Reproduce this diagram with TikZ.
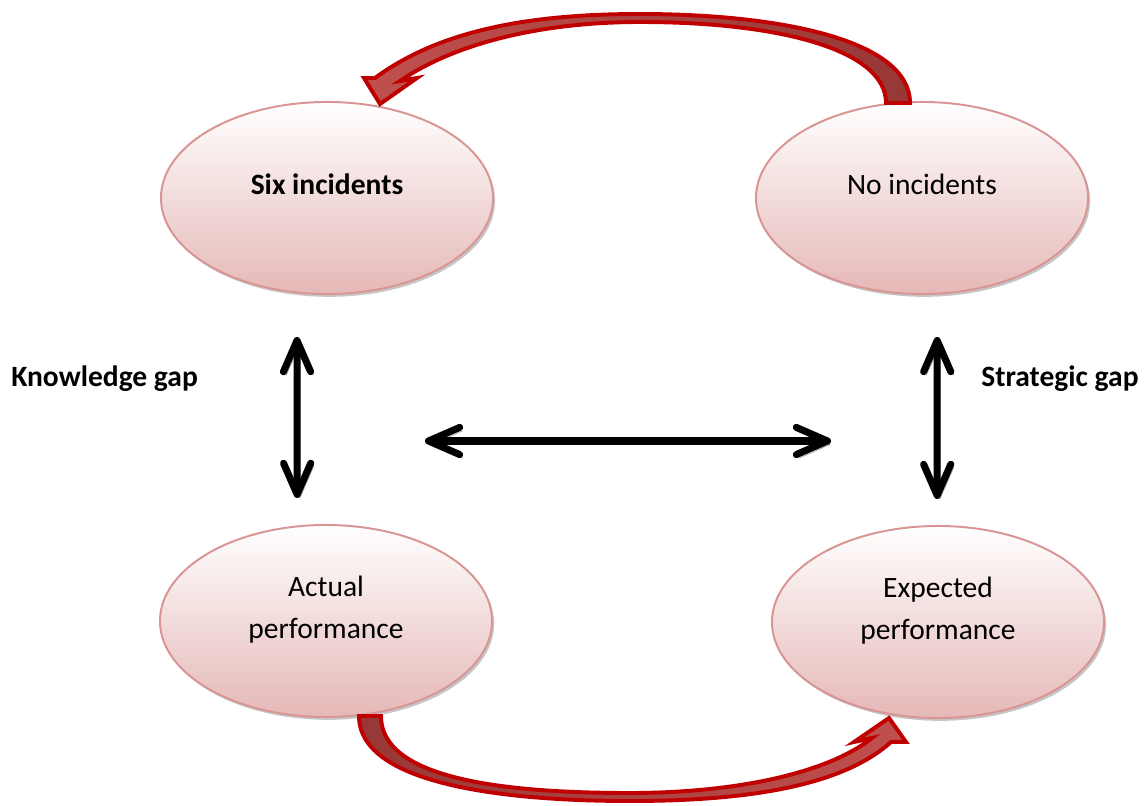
\documentclass[tikz,border=0pt]{standalone}
\usepackage{fontspec}
\setmainfont{Carlito}
\usetikzlibrary{shapes.geometric, positioning, arrows.meta, shadows}

\definecolor{pinkedge}{RGB}{217,149,148}
\definecolor{pinkbot}{RGB}{229,184,183}
\definecolor{arrowred}{RGB}{192,0,0}
\definecolor{arrowlight}{RGB}{192,80,77}
\definecolor{arrowdark}{RGB}{150,56,54}
\newcommand\lblfont{\fontsize{21}{30}\selectfont}

\begin{document}
\begin{tikzpicture}[x=0.025cm, y=-0.025cm,
  bubble/.style={ellipse, draw=pinkedge, line width=1.4pt,
    top color=white, bottom color=pinkbot,
    minimum width=8.3cm, minimum height=4.8cm, inner sep=0pt,
    drop shadow={shadow xshift=1.5pt, shadow yshift=-2pt, opacity=0.45}},
  txt/.style={font=\lblfont, align=center},
  gaparrow/.style={{Straight Barb[length=0.78cm,width=0.68cm,round]}-{Straight Barb[length=0.78cm,width=0.68cm,round]},
    line width=5pt, line cap=round,
    preaction={draw=black!40, transform canvas={shift={(2pt,-2.5pt)}}}},
  curvy/.style={draw=arrowred, line width=2.8pt, line join=miter}
]
\useasboundingbox (0,0) rectangle (1144,806);

\node[bubble, label={[txt, yshift=0.35cm]center:\textbf{Six incidents}}] (six) at (327,198) {};
\node[bubble, label={[txt, yshift=0.35cm]center:No incidents}] (none) at (922,198) {};
\node[bubble, label={[txt, yshift=0.28cm]center:Actual\\performance}] (actual) at (326,621) {};
\node[bubble, label={[txt, yshift=0.28cm]center:Expected\\performance}] (expected) at (938,622) {};

\node[txt, anchor=west, inner sep=0pt, font=\lblfont\bfseries] (kgap) at (11,379) {Knowledge gap};
\node[txt, anchor=west, inner sep=0pt, font=\lblfont\bfseries] (sgap) at (981,379) {Strategic gap};

\coordinate (hl) at (425,441);
\coordinate (hr) at (831,441);

% gaps
\draw[gaparrow] ([xshift=-0.75cm, yshift=-1.05cm]six.south) -- ([xshift=-0.72cm, yshift=0.65cm]actual.north);
\draw[gaparrow] ([xshift=0.38cm, yshift=-1.05cm]none.south) -- ([xshift=-0.02cm, yshift=0.65cm]expected.north);
\draw[gaparrow] (hl) -- (hr);

% curved arrows
\draw[curvy, left color=arrowlight, right color=arrowdark]
  (910,103) .. controls (910,40) and (780,14) .. (640,14)
  .. controls (530,14) and (440,30) .. (375,78)
  -- (364,78) -- (380,104) -- (417,78) -- (400,81)
  .. controls (460,40) and (550,22) .. (640,22)
  .. controls (780,22) and (886,50) .. (886,103) -- cycle;
\draw[curvy, left color=arrowdark, right color=arrowlight]
  (359,716) .. controls (359,788) and (520,801) .. (630,801)
  .. controls (740,801) and (840,788) .. (891,742)
  -- (906,742) -- (889,718) -- (854,742) -- (872,738)
  .. controls (825,775) and (730,793) .. (630,793)
  .. controls (500,793) and (381,778) .. (381,716) -- cycle;
\end{tikzpicture}
\end{document}
